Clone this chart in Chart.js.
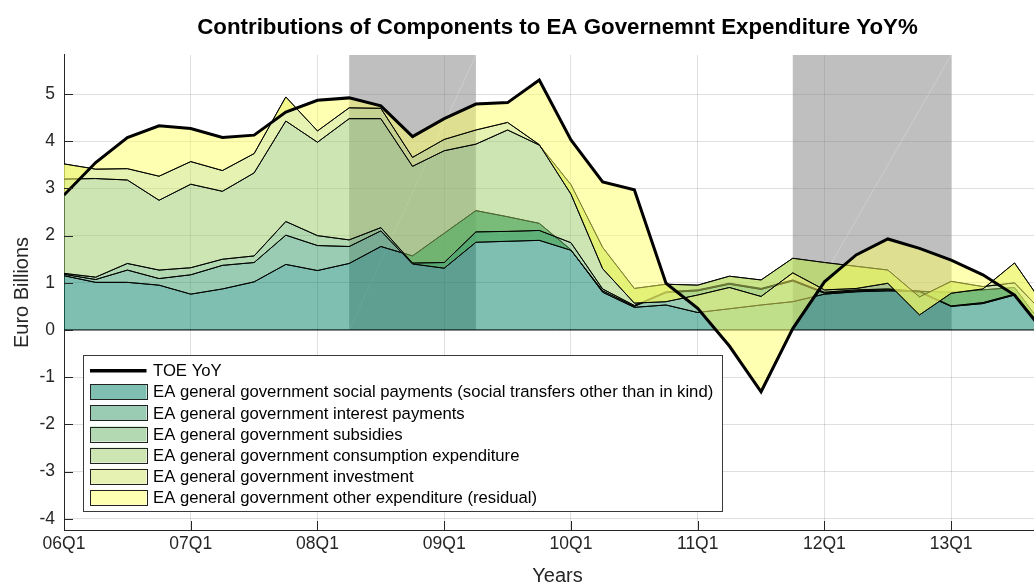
<!DOCTYPE html>
<html><head><meta charset="utf-8">
<script src="https://cdn.jsdelivr.net/npm/chart.js@4.4.1/dist/chart.umd.min.js"></script>
<style>html,body{margin:0;padding:0;background:#fff;overflow:hidden;width:1034px;height:586px}canvas{display:block}</style>
</head><body>
<canvas id="c" width="1051" height="586"></canvas>
<script>
const quarters = ["06Q1","06Q2","06Q3","06Q4","07Q1","07Q2","07Q3","07Q4","08Q1","08Q2","08Q3","08Q4",
  "09Q1","09Q2","09Q3","09Q4","10Q1","10Q2","10Q3","10Q4","11Q1","11Q2","11Q3","11Q4",
  "12Q1","12Q2","12Q3","12Q4","13Q1","13Q2","13Q3","13Q4"];
const yearTicks = ["06Q1","07Q1","08Q1","09Q1","10Q1","11Q1","12Q1","13Q1"];
const yTicks = [-4,-3,-2,-1,0,1,2,3,4,5];
const yRange = [-4.24, 5.83];
const xViewEnd = 31.15;

const toe = [2.86,3.55,4.08,4.33,4.27,4.08,4.13,4.62,4.87,4.92,4.75,4.10,4.48,4.79,4.82,5.30,4.03,3.14,2.97,0.99,0.46,-0.34,-1.31,0.03,1.02,1.59,1.93,1.73,1.48,1.17,0.74,-0.10];
const social = [1.15,1.01,1.01,0.95,0.76,0.87,1.02,1.39,1.26,1.41,1.77,1.57,2.05,2.53,2.40,2.26,1.70,0.80,0.48,0.53,0.37,0.45,0.53,0.60,0.76,0.81,0.83,0.82,0.80,0.85,0.90,0.00];
const interest = [0.03,0.06,0.26,0.14,0.41,0.50,0.41,0.62,0.53,0.36,0.33,-0.17,-0.74,-0.67,-0.52,-0.36,-0.01,0.03,0.02,0.26,0.46,0.52,0.33,0.44,0.02,0.02,0.02,-0.02,-0.30,-0.29,-0.16,-0.10];
const subsidies = [0.02,0.05,0.14,0.18,0.15,0.13,0.14,0.29,0.21,0.14,0.07,0.02,0.12,0.22,0.21,0.21,0.16,0.04,0.02,0.02,0.02,0.02,0.02,0.02,0.02,0.02,0.02,0.02,0.01,0.02,0.02,0.05];
const consumption = [2.00,2.09,1.77,1.48,1.77,1.44,1.76,2.13,1.98,2.57,2.31,2.05,2.37,1.86,2.15,1.81,1.23,0.88,0.36,0.16,0.10,0.15,0.18,0.46,0.63,0.50,0.40,-0.12,0.52,0.34,0.24,0.35];
const investment = [0.32,0.20,0.24,0.51,0.48,0.44,0.41,0.51,0.24,0.23,0.22,0.19,0.24,0.30,0.16,0.01,-0.20,-0.45,-0.31,-0.37,-0.21,-0.24,-0.35,-0.31,-0.58,-0.47,-0.28,-0.38,-0.25,-0.05,0.42,0.15];
const other = [-0.66,0.14,0.66,1.07,0.70,0.70,0.39,-0.32,0.65,0.21,0.05,0.44,0.44,0.55,0.42,1.37,1.15,1.84,2.40,0.39,-0.28,-1.24,-2.02,-1.18,0.17,0.71,0.94,1.41,0.70,0.30,-0.68,-0.55];
const recessions = [["08Q2","09Q2"],["11Q4","13Q1"]];

const seriesNames = [
  "EA general government social payments (social transfers other than in kind)",
  "EA general government interest payments",
  "EA general government subsidies",
  "EA general government consumption expenditure",
  "EA general government investment",
  "EA general government other expenditure (residual)"
];
const components = [social, interest, subsidies, consumption, investment, other];
const layerColors = ["rgba(0,128,102,0.5)","rgba(51,153,102,0.5)","rgba(102,179,102,0.5)",
  "rgba(153,204,102,0.5)","rgba(204,230,102,0.5)","rgba(255,255,102,0.5)"];

// MATLAB-style area: cumulative sum of the components
let running = quarters.map(() => 0);
const levels = components.map(arr => { running = running.map((v, i) => v + arr[i]); return running.slice(); });

const datasets = [{
  label: "TOE YoY", data: toe.map((v, i) => ({x: i, y: v})),
  borderColor: "#000", borderWidth: 3, pointRadius: 0, fill: false, order: 0
}];
levels.forEach((lv, k) => datasets.push({
  label: seriesNames[k], data: lv.map((v, i) => ({x: i, y: v})),
  borderColor: "#000", borderWidth: 1, backgroundColor: layerColors[k],
  fill: k === 0 ? "origin" : k, pointRadius: 0, order: 10 - k
}));

const AXIS = "#262626";
Chart.defaults.font.family = '"Liberation Sans", Arial, Helvetica, sans-serif';

const shadePlugin = {
  id: "shade",
  beforeDatasetsDraw(chart) {
    const {ctx, chartArea: a, scales: {x, y}} = chart;
    ctx.save();
    ctx.beginPath(); ctx.rect(a.left, a.top, a.right - a.left, a.bottom - a.top); ctx.clip();
    recessions.forEach(([s, e]) => {
      const x0 = x.getPixelForValue(quarters.indexOf(s)), x1 = x.getPixelForValue(quarters.indexOf(e));
      const y0 = y.getPixelForValue(0), y1 = y.getPixelForValue(yRange[1]);
      ctx.fillStyle = "rgba(128,128,128,0.5)";
      ctx.fillRect(x0, y1, x1 - x0, y0 - y1);
      ctx.strokeStyle = "rgba(255,255,255,0.22)"; ctx.lineWidth = 1;
      ctx.beginPath(); ctx.moveTo(x0, y0); ctx.lineTo(x1, y1); ctx.stroke();
    });
    ctx.restore();
  }
};

const edgePlugin = {
  id: "edges",
  afterDatasetDraw(chart, args) {
    const idx = args.index;
    if (idx < 1) return;
    const {ctx, chartArea: a} = chart;
    ctx.save();
    ctx.beginPath(); ctx.rect(a.left, a.top, a.right - a.left, a.bottom - a.top); ctx.clip();
    ctx.strokeStyle = "#000"; ctx.lineWidth = 1; ctx.beginPath();
    if (idx === 1) {
      const yz = chart.scales.y.getPixelForValue(0);
      const m = chart.getDatasetMeta(1).data;
      ctx.moveTo(m[0].x, yz); ctx.lineTo(m[m.length - 1].x, yz);
    } else {
      chart.getDatasetMeta(idx - 1).data.forEach((p, i) => i ? ctx.lineTo(p.x, p.y) : ctx.moveTo(p.x, p.y));
    }
    ctx.stroke(); ctx.restore();
  }
};

const tickPlugin = {
  id: "innerTicks",
  afterDatasetsDraw(chart) {
    const {ctx, chartArea: a, scales: {x, y}} = chart;
    ctx.save(); ctx.strokeStyle = AXIS; ctx.lineWidth = 1; ctx.beginPath();
    y.ticks.forEach(t => { const py = Math.round(y.getPixelForValue(t.value)) + 0.5; ctx.moveTo(a.left, py); ctx.lineTo(a.left + 9, py); });
    x.ticks.forEach(t => { const px = Math.round(x.getPixelForValue(t.value)) + 0.5; ctx.moveTo(px, a.bottom); ctx.lineTo(px, a.bottom - 9); });
    ctx.stroke(); ctx.restore();
  }
};

const legendPlugin = {
  id: "boxLegend",
  afterDraw(chart) {
    const {ctx, chartArea: a} = chart;
    const dsets = chart.data.datasets;
    ctx.save();
    ctx.font = '16.7px "Liberation Sans", Arial, sans-serif';
    const maxW = Math.max(...dsets.map(d => ctx.measureText(d.label).width));
    const left = a.left + 19.3, bottom = a.bottom - 19;
    const rowH = 21.1, top = bottom - 156;
    const boxW = 69.7 + maxW + 9;
    ctx.fillStyle = "#fff"; ctx.fillRect(left, top, boxW, bottom - top);
    ctx.strokeStyle = "#3a3a3a"; ctx.lineWidth = 1;
    ctx.strokeRect(Math.round(left) + 0.5, Math.round(top) + 0.5, Math.round(boxW), Math.round(bottom - top));
    dsets.forEach((d, k) => {
      const cy = top + 15.7 + k * rowH;
      const sx = left + 6.7, sw = 56.5;
      if (k === 0) {
        ctx.strokeStyle = "#000"; ctx.lineWidth = 3.5;
        ctx.beginPath(); ctx.moveTo(sx, cy); ctx.lineTo(sx + sw, cy); ctx.stroke();
      } else {
        ctx.fillStyle = d.backgroundColor; ctx.fillRect(sx, cy - 7.5, sw, 15);
        ctx.strokeStyle = "#222"; ctx.lineWidth = 1;
        ctx.strokeRect(Math.round(sx) + 0.5, Math.round(cy - 7.5) + 0.5, Math.round(sw), 15);
      }
      ctx.fillStyle = "#000"; ctx.textBaseline = "middle"; ctx.textAlign = "left";
      ctx.fillText(d.label, left + 69.7, cy + 1);
    });
    ctx.restore();
  }
};

new Chart(document.getElementById("c"), {
  type: "line",
  data: {datasets},
  plugins: [shadePlugin, edgePlugin, tickPlugin, legendPlugin],
  options: {
    responsive: false, animation: false, devicePixelRatio: 1,
    layout: {padding: 0},
    elements: {line: {tension: 0}},
    plugins: {
      legend: {display: false}, tooltip: {enabled: false},
      filler: {propagate: false},
      title: {display: true, fullSize: false, text: "Contributions of Components to EA Governemnt Expenditure YoY%",
        color: "#000", font: {size: 22.3, weight: "bold"}, padding: {top: 14, bottom: 14.2}}
    },
    scales: {
      x: {
        type: "linear", min: 0, max: xViewEnd,
        afterBuildTicks: s => { s.ticks = yearTicks.map(l => ({value: quarters.indexOf(l)})); },
        afterFit: s => { s.height = 56; },
        ticks: {callback: v => quarters[v], color: AXIS, font: {size: 17.5}, padding: 4, maxRotation: 0, autoSkip: false},
        grid: {color: "rgba(38,38,38,0.15)", drawTicks: false},
        border: {color: AXIS, width: 1},
        title: {display: true, text: "Years", color: AXIS, font: {size: 20}, padding: {top: 0, bottom: -2}}
      },
      y: {
        type: "linear", min: yRange[0], max: yRange[1],
        afterBuildTicks: s => { s.ticks = yTicks.map(v => ({value: v})); },
        afterFit: s => { s.width = 64; },
        ticks: {color: AXIS, font: {size: 17.5}, padding: 9},
        grid: {color: "rgba(38,38,38,0.15)", drawTicks: false},
        border: {color: AXIS, width: 1},
        title: {display: true, text: "Euro Billions", color: AXIS, font: {size: 20}, padding: {top: 10, bottom: 0}}
      }
    }
  }
});
</script>
</body></html>
